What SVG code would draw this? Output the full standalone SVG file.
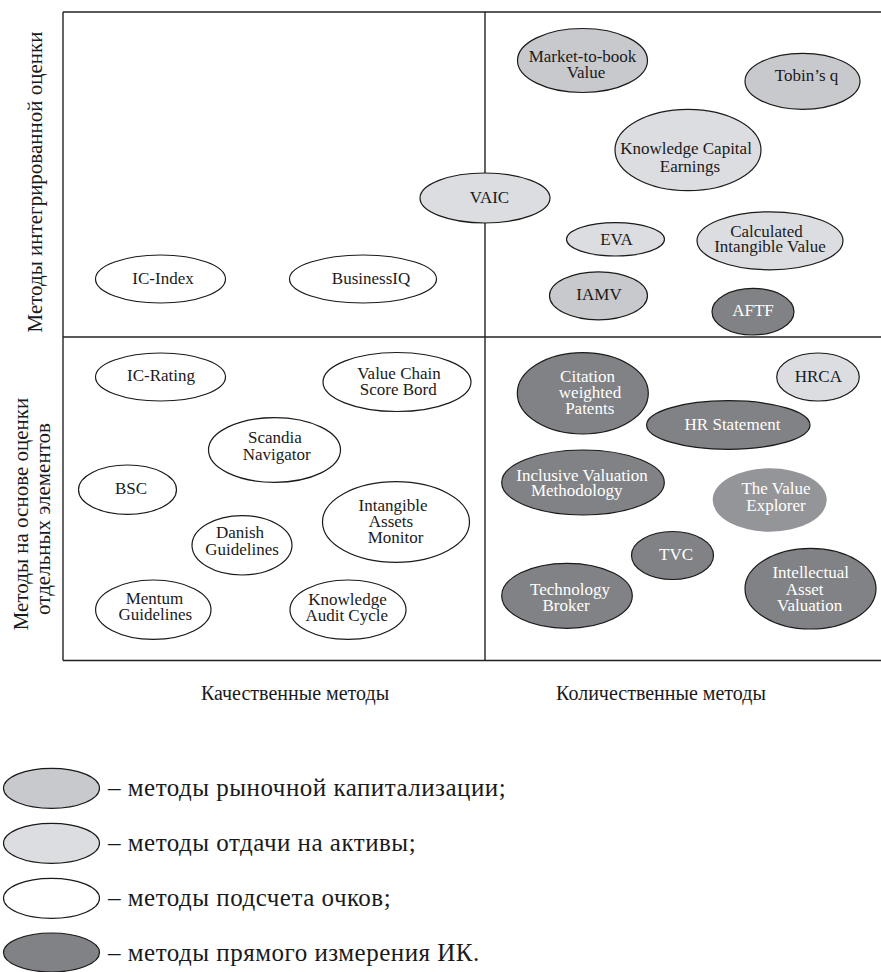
<svg xmlns="http://www.w3.org/2000/svg" width="881" height="972" viewBox="0 0 881 972">
<style>
text{font-family:"Liberation Serif","Times New Roman",serif;fill:#1a1a1a}
.t{font-size:17px;text-anchor:middle}
.w{fill:#ffffff}
ellipse{stroke:#1a1a1a;stroke-width:1.2}
.mk{fill:#c8c9cc}
.ra{fill:#dcdde0}
.sc{fill:#ffffff}
.dm{fill:#808285}
.ve{fill:#939598;stroke:none}
.ax{font-size:21px;text-anchor:middle}
.bx{font-size:20px;text-anchor:middle}
.lg{font-size:25px;letter-spacing:0.5px}
.fr line{stroke:#222;stroke-width:1.4}
</style>
<rect width="881" height="972" fill="#ffffff"/>
<g id="frame" class="fr">
<line x1="63" y1="12" x2="881" y2="12"/>
<line x1="63" y1="660.5" x2="881" y2="660.5"/>
<line x1="63" y1="12" x2="63" y2="660.5"/>
<line x1="63" y1="337" x2="881" y2="337"/>
<line x1="485" y1="12" x2="485" y2="660.5"/>
</g>
<g id="axis-labels">
<text class="ax" transform="translate(42,182) rotate(-90)">Методы интегрированной оценки</text>
<text class="ax" transform="translate(27.5,514) rotate(-90)">Методы на основе оценки</text>
<text class="ax" transform="translate(50,519) rotate(-90)">отдельных элементов</text>
<text class="bx" x="295" y="700">Качественные методы</text>
<text class="bx" x="661" y="700">Количественные методы</text>
</g>
<g id="connectors"></g>
<g id="ic-index"><ellipse class="sc" cx="160.5" cy="279" rx="65" ry="24"/><text class="t" x="163" y="284">IC-Index</text></g>
<g id="businessiq"><ellipse class="sc" cx="363" cy="279" rx="73.5" ry="24"/><text class="t" x="371" y="284">BusinessIQ</text></g>
<g id="vaic"><ellipse class="ra" cx="485" cy="198" rx="65" ry="25"/><text class="t" x="489.5" y="203">VAIC</text></g>
<g id="market-to-book"><ellipse class="mk" cx="582.5" cy="60.5" rx="65" ry="32"/><text class="t" x="582.5" y="61.5">Market-to-book</text><text class="t" x="586" y="77.5">Value</text></g>
<g id="tobins-q"><ellipse class="mk" cx="802.5" cy="81.3" rx="57.5" ry="28"/><text class="t" x="806.5" y="81">Tobin’s q</text></g>
<g id="kce"><ellipse class="ra" cx="688" cy="150" rx="73" ry="40.7"/><text class="t" x="686" y="154">Knowledge Capital</text><text class="t" x="690" y="172">Earnings</text></g>
<g id="eva"><ellipse class="ra" cx="615.5" cy="239.3" rx="49" ry="16.7"/><text class="t" x="616.5" y="244.5">EVA</text></g>
<g id="civ"><ellipse class="ra" cx="770" cy="240.8" rx="73" ry="29"/><text class="t" x="766.5" y="236.5">Calculated</text><text class="t" x="770" y="252">Intangible Value</text></g>
<g id="iamv"><ellipse class="mk" cx="598.5" cy="295.8" rx="49" ry="24"/><text class="t" x="599" y="299.5">IAMV</text></g>
<g id="aftf"><ellipse class="dm" cx="753" cy="311.7" rx="41" ry="23.3"/><text class="t w" x="753" y="316.3">AFTF</text></g>
<g id="ic-rating"><ellipse class="sc" cx="160.5" cy="377" rx="65" ry="24"/><text class="t" x="161" y="380.5">IC-Rating</text></g>
<g id="value-chain"><ellipse class="sc" cx="397" cy="382" rx="74" ry="29.5"/><text class="t" x="399" y="378.5">Value Chain</text><text class="t" x="398.3" y="394.5">Score Bord</text></g>
<g id="scandia"><ellipse class="sc" cx="274.5" cy="450" rx="66" ry="32.3"/><text class="t" x="275" y="443">Scandia</text><text class="t" x="276.7" y="459.5">Navigator</text></g>
<g id="bsc"><ellipse class="sc" cx="127.5" cy="489.7" rx="49" ry="24.7"/><text class="t" x="131" y="494">BSC</text></g>
<g id="iam"><ellipse class="sc" cx="396" cy="522" rx="73.5" ry="40.3"/><text class="t" x="393" y="510.5">Intangible</text><text class="t" x="391" y="527.3">Assets</text><text class="t" x="395.5" y="543">Monitor</text></g>
<g id="danish"><ellipse class="sc" cx="242" cy="545.3" rx="50" ry="29.7"/><text class="t" x="240" y="538">Danish</text><text class="t" x="242" y="554.5">Guidelines</text></g>
<g id="mentum"><ellipse class="sc" cx="153.3" cy="609.7" rx="57.7" ry="29.7"/><text class="t" x="154.5" y="604">Mentum</text><text class="t" x="155.3" y="619.5">Guidelines</text></g>
<g id="kac"><ellipse class="sc" cx="348" cy="609.7" rx="58" ry="29.7"/><text class="t" x="347.5" y="605.3">Knowledge</text><text class="t" x="346.7" y="621.3">Audit Cycle</text></g>
<g id="citation"><ellipse class="dm" cx="582.8" cy="393.3" rx="65.5" ry="40.7"/><text class="t w" x="587.5" y="382">Citation</text><text class="t w" x="590" y="398">weighted</text><text class="t w" x="589.7" y="414">Patents</text></g>
<g id="hrca"><ellipse class="ra" cx="818" cy="377" rx="41.3" ry="24"/><text class="t" x="818.3" y="382">HRCA</text></g>
<g id="hr-statement"><ellipse class="dm" cx="728.3" cy="425" rx="81.7" ry="24.3"/><text class="t w" x="732.5" y="429.5">HR Statement</text></g>
<g id="ivm"><ellipse class="dm" cx="583" cy="482.5" rx="81.3" ry="32.5"/><text class="t w" x="582" y="481.3">Inclusive Valuation</text><text class="t w" x="576.7" y="496.3">Methodology</text></g>
<g id="value-explorer"><ellipse class="ve" cx="769.7" cy="500" rx="57" ry="31.7"/><text class="t w" x="776" y="494">The Value</text><text class="t w" x="776" y="510.5">Explorer</text></g>
<g id="tvc"><ellipse class="dm" cx="672.5" cy="555.5" rx="41" ry="24"/><text class="t w" x="676" y="559.5">TVC</text></g>
<g id="technology-broker"><ellipse class="dm" cx="567" cy="595.8" rx="65.3" ry="32.5"/><text class="t w" x="570" y="594.5">Technology</text><text class="t w" x="566" y="611.3">Broker</text></g>
<g id="iav"><ellipse class="dm" cx="810.5" cy="588.7" rx="65.5" ry="40.3"/><text class="t w" x="810.7" y="578">Intellectual</text><text class="t w" x="804.7" y="594.5">Asset</text><text class="t w" x="809.7" y="610.5">Valuation</text></g>
<g id="legend">
<ellipse class="mk" cx="51.5" cy="788.3" rx="48" ry="20"/>
<text class="lg" x="108" y="796">– методы рыночной капитализации;</text>
<ellipse class="ra" cx="51.5" cy="843.3" rx="48" ry="20"/>
<text class="lg" x="108" y="851">– методы отдачи на активы;</text>
<ellipse class="sc" cx="51.5" cy="898.3" rx="48" ry="20"/>
<text class="lg" x="108" y="906">– методы подсчета очков;</text>
<ellipse class="dm" cx="51.5" cy="952.5" rx="48" ry="19.5"/>
<text class="lg" x="108" y="961">– методы прямого измерения ИК.</text>
</g>
</svg>
